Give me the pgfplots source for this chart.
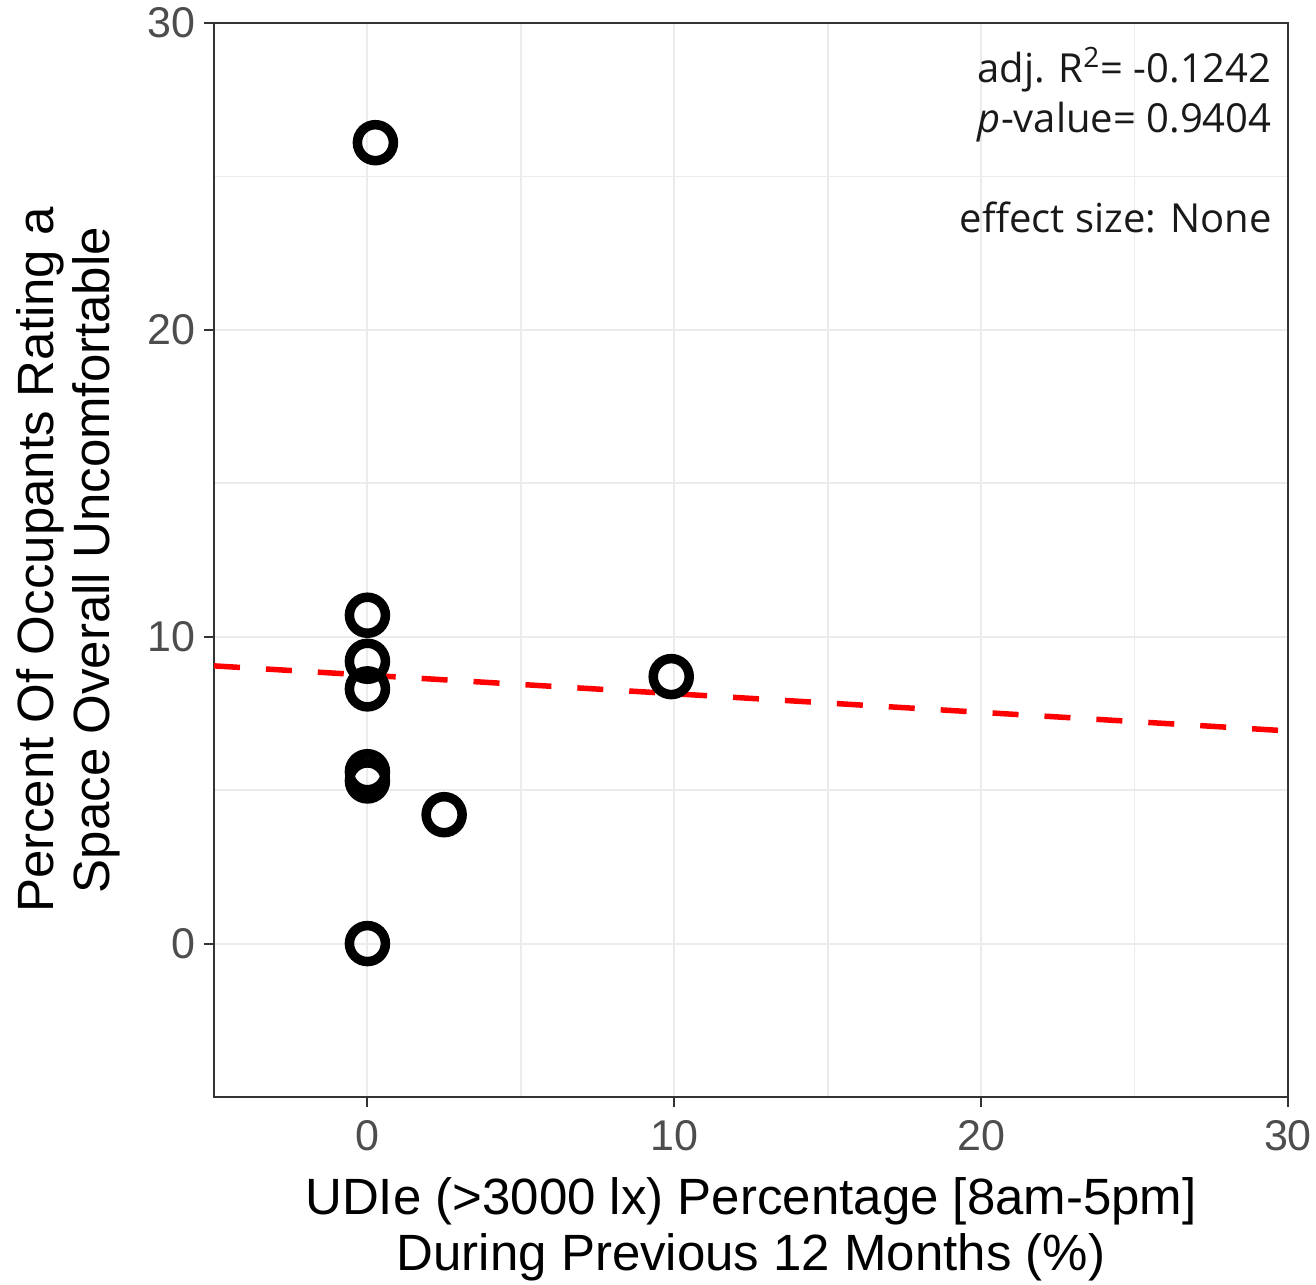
\documentclass[border=0pt]{standalone}
\usepackage{pgfplots}
\pgfplotsset{compat=1.18}
\usepackage{fontspec}
\setmainfont{Liberation Sans}
\newfontfamily\annot{Open Sans}
\definecolor{gridc}{HTML}{EBEBEB}
\definecolor{framec}{HTML}{333333}
\definecolor{tickc}{HTML}{4D4D4D}
\begin{document}
\begin{tikzpicture}
\begin{axis}[
  scale only axis,
  width=537pt, height=537pt,
  xmin=-5, xmax=30, ymin=-5, ymax=30,
  xtick={0,10,20,30}, ytick={0,10,20,30},
  minor xtick={5,15,25}, minor ytick={5,15,25},
  grid=both,
  major grid style={gridc, line width=1pt},
  minor grid style={gridc, line width=0.8pt},
  axis line style={framec, line width=1pt},
  tick style={framec, line width=1pt},
  major tick length=5pt, minor tick length=0pt,
  tick align=outside, tick pos=left,
  /pgf/number format/assume math mode=true,
  ticklabel style={font=\fontsize{21.5}{25}\selectfont, text=tickc},
  xticklabel style={yshift=-3pt},
  yticklabel style={xshift=-1pt},
  xlabel={UDIe (>3000 lx) Percentage [8am-5pm]\\During Previous 12 Months (\%)},
  ylabel={Percent Of Occupants Rating a\\Space Overall Uncomfortable},
  label style={font=\fontsize{25.5}{28}\selectfont, align=center, inner sep=0pt},
  xlabel style={at={(rel axis cs:0.5,0)}, anchor=north, yshift=-40pt},
  ylabel style={at={(rel axis cs:0,0.5)}, anchor=south, yshift=47pt},
]
\addplot[red, line width=2.75pt, dash pattern=on 13pt off 13pt] coordinates {(-5,9.05) (30,6.93)};
\addplot[only marks, mark=o, mark size=9pt, line width=4.75pt, mark options={black, line width=4.75pt}] coordinates {
(0.26,26.1) (0,10.7) (0,9.2) (0,8.3) (0,5.6) (0,5.3) (2.5,4.2) (0,0) (9.9,8.7)};
\node[anchor=north east, align=right, inner sep=0pt, font=\annot\fontsize{20}{25}\selectfont, text=black!90]
  at ([xshift=-8pt,yshift=-12pt]rel axis cs:1,1)
  {adj. R\textsuperscript{2}= -0.1242\\\textit{p}-value= 0.9404\\[25pt]effect size: None};
\coordinate (sw) at (rel axis cs:0,0);
\coordinate (ne) at (rel axis cs:1,1);
\end{axis}
\pgfresetboundingbox
\path[use as bounding box] ([xshift=-107pt,yshift=-93.5pt]sw) rectangle ([xshift=14pt,yshift=11.5pt]ne);
\end{tikzpicture}
\end{document}
